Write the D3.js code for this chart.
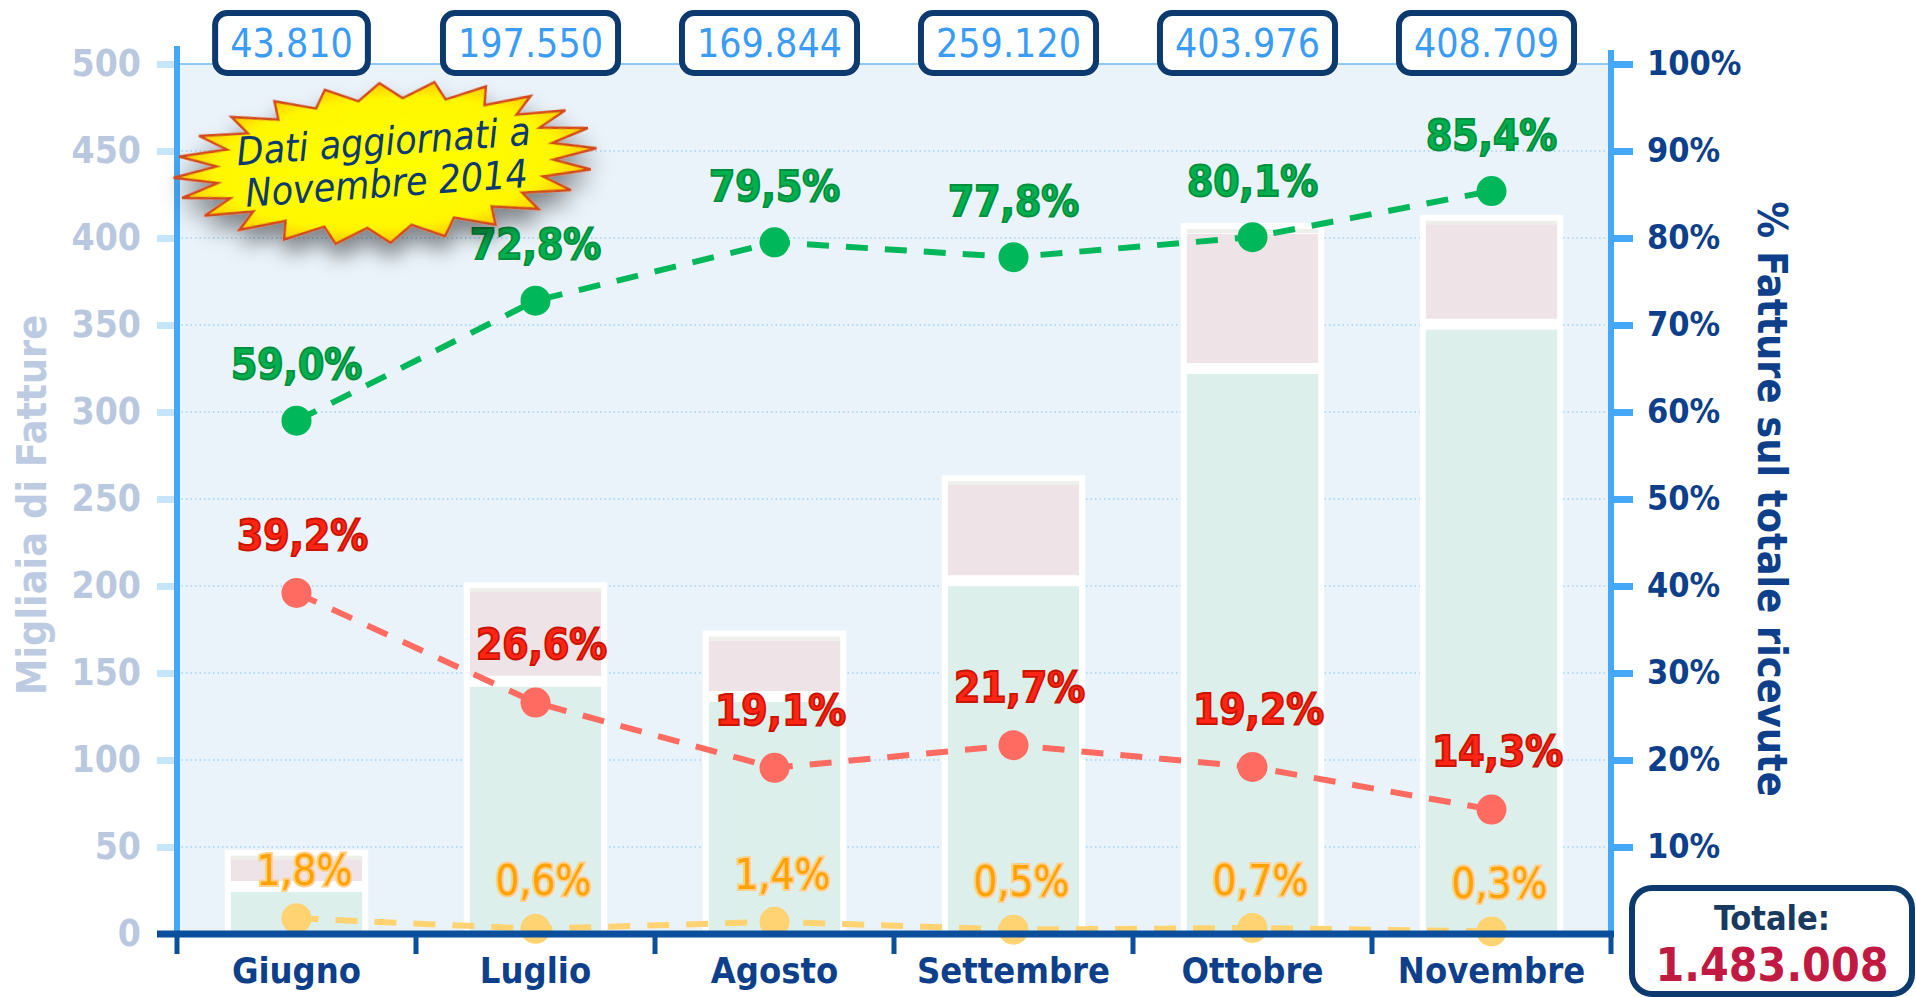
<!DOCTYPE html>
<html>
<head>
<meta charset="utf-8">
<script src="https://cdn.jsdelivr.net/npm/d3@7"></script>
<style>
  body { margin: 0; background: #fff; }
  text { font-family: "DejaVu Sans Condensed", "DejaVu Sans", sans-serif; }
</style>
</head>
<body>
<div id="chart-area"></div>
<script>
// dati (fatture ricevute, per mese)
const months = ['Giugno', 'Luglio', 'Agosto', 'Settembre', 'Ottobre', 'Novembre'];
const totals = [43810, 197550, 169844, 259120, 403976, 408709];
const pctGreen = [59.0, 72.8, 79.5, 77.8, 80.1, 85.4];
const pctRed = [39.2, 26.6, 19.1, 21.7, 19.2, 14.3];
const pctYellow = [1.8, 0.6, 1.4, 0.5, 0.7, 0.3];
const leftTicks = [0, 50, 100, 150, 200, 250, 300, 350, 400, 450, 500];
const rightTicks = [10, 20, 30, 40, 50, 60, 70, 80, 90, 100];
const grandTotal = 1483008;

const width = 1916, height = 997;
const it = d3.formatLocale({ decimal: ',', thousands: '.', grouping: [3], currency: ['€', ''] });
const fmtInt = it.format(',d'), fmtPct = it.format('.1f');

const svg = d3.select('#chart-area')
  .append('svg')
  .attr('width', width)
  .attr('height', height);

const x = d3.scaleBand().domain(months).range([177, 1611]);
const y = d3.scaleLinear().domain([0, 500]).range([934, 64]);
const yPct = d3.scaleLinear().domain([0, 100]).range([934, 64]);
const bw = x.bandwidth() * 0.6;
const cx = m => x(m) + x.bandwidth() / 2;

const defs = svg.append('defs');
const shadow = defs.append('filter').attr('id', 'shadow')
  .attr('x', '-30%').attr('y', '-30%').attr('width', '160%').attr('height', '180%');
shadow.append('feDropShadow').attr('dx', 0).attr('dy', 14).attr('stdDeviation', 10)
  .attr('flood-color', '#000').attr('flood-opacity', 0.45);
const rg = defs.append('radialGradient').attr('id', 'starFill');
rg.append('stop').attr('offset', '0%').attr('stop-color', '#ffff00');
rg.append('stop').attr('offset', '80%').attr('stop-color', '#fff700');
rg.append('stop').attr('offset', '100%').attr('stop-color', '#ffc800');

// sfondo area grafico
svg.append('rect')
  .attr('x', 177).attr('y', y(500))
  .attr('width', 1611 - 177).attr('height', y(0) - y(500))
  .attr('fill', '#eaf3fa');

// griglia
svg.append('g').selectAll('line')
  .data(leftTicks.filter(d => d > 0 && d < 500))
  .join('line')
  .attr('x1', 177).attr('x2', 1611)
  .attr('y1', d => y(d)).attr('y2', d => y(d))
  .attr('stroke', '#7cc0f2').attr('stroke-width', 1.2)
  .attr('stroke-dasharray', '1.5,3');
svg.append('line')
  .attr('x1', 177).attr('x2', 1611).attr('y1', y(500)).attr('y2', y(500))
  .attr('stroke', '#6db8f0').attr('stroke-width', 1.5);

// asse sinistro
const leftAxis = svg.append('g')
  .attr('transform', 'translate(177,0)')
  .call(d3.axisLeft(y).tickValues(leftTicks.filter(d => d > 0)).tickSize(20).tickPadding(16));
leftAxis.select('.domain').remove();
leftAxis.selectAll('.tick line').attr('stroke', '#c6e4fa').attr('stroke-width', 7);
leftAxis.append('g').attr('transform', `translate(0,${y(0)})`).append('text')
  .attr('x', -36).attr('dy', '0.32em').text('0');
leftAxis.selectAll('text')
  .attr('fill', '#b9c7df').style('font-size', '37px').style('font-weight', 'bold')
  .attr('text-anchor', 'end');

svg.append('text')
  .attr('transform', `translate(46,${(y(0) + y(500)) / 2 + 6}) rotate(-90)`)
  .attr('text-anchor', 'middle')
  .attr('fill', '#bdcbe2').style('font-size', '41px').style('font-weight', 'bold')
  .text('Migliaia di Fatture');

// barre impilate
const bars = svg.append('g').selectAll('g')
  .data(months.map((m, i) => {
    const t = totals[i] / 1000;
    const g = t * pctGreen[i] / 100, r = t * pctRed[i] / 100;
    return { m, t, segs: [[0, g, '#dcefeb'], [g, g + r, '#eee4e7'], [g + r, t, '#eeeeea']] };
  }))
  .join('g');

bars.append('rect')
  .attr('x', d => cx(d.m) - bw / 2).attr('width', bw)
  .attr('y', d => y(d.t) - 8).attr('height', d => y(0) - y(d.t) + 8)
  .attr('fill', '#fff');

bars.selectAll('.seg')
  .data(d => d.segs.map(s => ({ m: d.m, s })))
  .join('rect')
  .attr('class', 'seg')
  .attr('x', d => cx(d.m) - bw / 2 + 6).attr('width', bw - 12)
  .attr('y', d => y(d.s[1]) + (d.s[0] > 0 ? -2 : 3))
  .attr('height', (d, i) => i === 2 ? 4 : Math.max(3, y(d.s[0]) - y(d.s[1]) - 6))
  .attr('fill', d => d.s[2]);

// linee percentuali
const series = [
  { vals: pctYellow, color: '#ffd272', fill: '#ffa200', outline: '#ffd08c', weight: 'normal', off: 48, dx: 8 },
  { vals: pctRed, color: '#ff6b61', fill: '#ff2414', outline: '#c81400', weight: 'bold', off: 58, dx: 6 },
  { vals: pctGreen, color: '#00b85a', fill: '#00b050', outline: '#008f3c', weight: 'bold', off: 56, dx: 0 }
];
const line = d3.line().x((d, i) => cx(months[i])).y(d => yPct(d));

series.forEach(s => {
  const g = svg.append('g');
  g.append('path')
    .attr('d', line(s.vals))
    .attr('fill', 'none').attr('stroke', s.color)
    .attr('stroke-width', 6).attr('stroke-dasharray', '22,17');
  g.selectAll('circle')
    .data(s.vals)
    .join('circle')
    .attr('cx', (d, i) => cx(months[i])).attr('cy', d => yPct(d))
    .attr('r', 15).attr('fill', s.color);
});

series.forEach(s => {
  svg.append('g').selectAll('text')
    .data(s.vals)
    .join('text')
    .attr('x', (d, i) => cx(months[i]) + s.dx)
    .attr('y', d => yPct(d) - s.off)
    .attr('dy', '0.35em')
    .attr('text-anchor', 'middle')
    .style('font-size', '42px').style('font-weight', s.weight)
    .style('paint-order', s.weight === 'bold' ? 'normal' : 'stroke')
    .attr('fill', s.fill).attr('stroke', s.outline)
    .attr('stroke-width', s.weight === 'bold' ? 1.8 : 4)
    .text(d => fmtPct(d) + '%');
});

// asse destro
svg.append('line')
  .attr('x1', 1611).attr('x2', 1611).attr('y1', 50).attr('y2', y(0))
  .attr('stroke', '#45a8f7').attr('stroke-width', 6);
const rightAxis = svg.append('g')
  .attr('transform', 'translate(1611,0)')
  .call(d3.axisRight(yPct).tickValues(rightTicks).tickFormat(d => d + '%').tickSize(22).tickPadding(14));
rightAxis.select('.domain').remove();
rightAxis.selectAll('.tick line').attr('stroke', '#45a8f7').attr('stroke-width', 7);
rightAxis.selectAll('text').attr('fill', '#0d3f8a').style('font-size', '34px').style('font-weight', 'bold');

svg.append('text')
  .attr('transform', `translate(1758,${(y(0) + y(500)) / 2}) rotate(90)`)
  .attr('text-anchor', 'middle')
  .attr('fill', '#0d3f8a').style('font-size', '41px').style('font-weight', 'bold')
  .text('% Fatture sul totale ricevute');

// asse sinistro (linea) e asse x
svg.append('line')
  .attr('x1', 177).attr('x2', 177).attr('y1', 46).attr('y2', y(0))
  .attr('stroke', '#45a8f7').attr('stroke-width', 6);
svg.append('line')
  .attr('x1', 157).attr('x2', 1614).attr('y1', y(0)).attr('y2', y(0))
  .attr('stroke', '#0b4f9c').attr('stroke-width', 7);
svg.append('g').selectAll('line')
  .data(months.map(m => x(m)).concat(x(months[5]) + x.bandwidth()))
  .join('line')
  .attr('x1', d => d).attr('x2', d => d)
  .attr('y1', y(0)).attr('y2', y(0) + 20)
  .attr('stroke', '#0b4f9c').attr('stroke-width', 5);
svg.append('g').selectAll('text')
  .data(months)
  .join('text')
  .attr('x', d => cx(d)).attr('y', 983)
  .attr('text-anchor', 'middle')
  .attr('fill', '#0d3f8a').style('font-size', '36px').style('font-weight', 'bold')
  .text(d => d);

// riquadri con i totali mensili
const boxes = svg.append('g').selectAll('g')
  .data(months.map((m, i) => ({ m, v: totals[i] })))
  .join('g')
  .attr('transform', d => `translate(${cx(d.m) - 5},43)`);
boxes.append('text')
  .attr('text-anchor', 'middle').attr('dy', '0.36em')
  .attr('fill', '#3a9cf5').style('font-size', '39px')
  .text(d => fmtInt(d.v));
boxes.each(function () {
  const w = d3.select(this).select('text').node().getComputedTextLength() + 30;
  d3.select(this).insert('rect', 'text')
    .attr('x', -w / 2).attr('y', -30).attr('width', w).attr('height', 60)
    .attr('rx', 12).attr('fill', '#fff')
    .attr('stroke', '#0d3a6e').attr('stroke-width', 6);
});

// stella "Dati aggiornati"
const starPts = d3.range(48).map(i => {
  const a = i / 48 * 2 * Math.PI, r = i % 2 ? 0.8 : 1;
  return [Math.cos(a) * 212 * r, Math.sin(a) * 80 * r];
});
const star = svg.append('g').attr('transform', 'translate(385,163) rotate(-4)');
star.append('polygon')
  .attr('points', starPts.map(p => p.join(',')).join(' '))
  .attr('fill', 'url(#starFill)').attr('stroke', '#d2481a').attr('stroke-width', 2.5)
  .attr('filter', 'url(#shadow)');
star.append('text')
  .attr('text-anchor', 'middle').attr('y', -8)
  .attr('fill', '#0d3a6e').style('font-size', '39px').style('font-style', 'italic')
  .text('Dati aggiornati a');
star.append('text')
  .attr('text-anchor', 'middle').attr('y', 34)
  .attr('fill', '#0d3a6e').style('font-size', '39px').style('font-style', 'italic')
  .text('Novembre 2014');

// totale complessivo
const tot = svg.append('g').attr('transform', 'translate(1632,888)');
tot.append('rect')
  .attr('width', 280).attr('height', 106).attr('rx', 20)
  .attr('fill', '#fff').attr('stroke', '#0d3a6e').attr('stroke-width', 6);
tot.append('text')
  .attr('x', 140).attr('y', 42).attr('text-anchor', 'middle')
  .attr('fill', '#183a5e').style('font-size', '34px').style('font-weight', 'bold')
  .text('Totale:');
tot.append('text')
  .attr('x', 140).attr('y', 93).attr('text-anchor', 'middle')
  .attr('fill', '#c01a42').style('font-size', '46px').style('font-weight', 'bold')
  .text(fmtInt(grandTotal));
</script>
</body>
</html>
